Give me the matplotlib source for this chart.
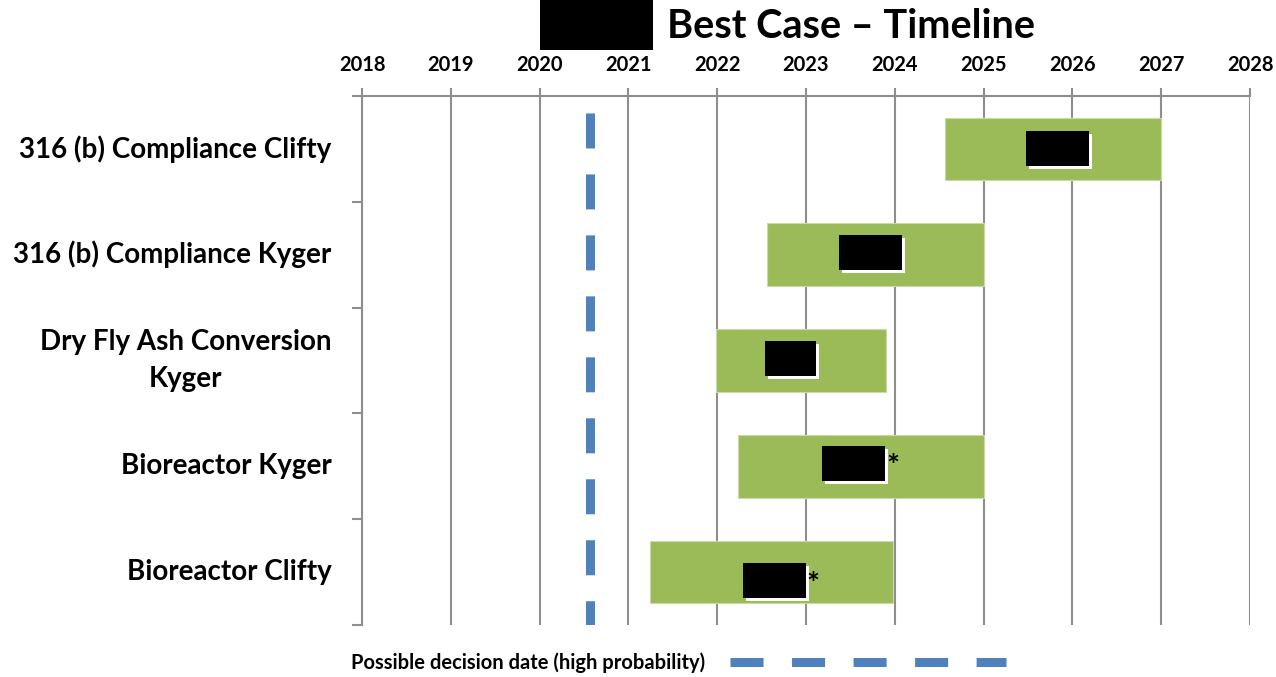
import matplotlib
matplotlib.use("Agg")
import matplotlib.pyplot as plt
from matplotlib.patches import Rectangle
from matplotlib.lines import Line2D

# ---------------- data ----------------
projects = ["316 (b) Compliance Clifty", "316 (b) Compliance Kyger",
            "Dry Fly Ash Conversion\nKyger", "Bioreactor Kyger", "Bioreactor Clifty"]
start_year = [2024.57, 2022.56, 2021.99, 2022.23, 2021.24]
end_year = [2027.0, 2025.0, 2023.90, 2025.0, 2023.98]
label_star = [False, False, False, True, True]
decision_date = 2020.57
years = list(range(2018, 2029))
title = "Best Case \u2013 Timeline"
legend_label = "Possible decision date (high probability)"

# ---------------- style ----------------
FONT = "Lato"
GREEN = "#9BBB59"
BLUE = "#4F81BD"
GRID = "#8E8E8E"
W, H = 1276, 677
DPI = 100
plt.rcParams["lines.scale_dashes"] = False

fig = plt.figure(figsize=(W / DPI, H / DPI), dpi=DPI)
ax = fig.add_axes([362 / W, 1 - 625 / H, (1250 - 362) / W, (625 - 96) / H])

ypos = list(range(len(projects)))
widths = [e - s for s, e in zip(start_year, end_year)]
ax.barh(ypos, widths, left=start_year, height=0.59, color=GREEN,
        edgecolor="#C9DBA6", linewidth=0.8, zorder=3)

# redacted data labels (black boxes) with a thin white offset shadow
box_w = [0.71, 0.71, 0.57, 0.71, 0.71]
box_dx = [0.05, -0.05, -0.12, -0.08, 0.03]
box_dy = [0.0, -0.02, -0.02, -0.03, 0.08]
px_x = 1 / 88.8
px_y = 1 / 105.8
for i, (s, e) in enumerate(zip(start_year, end_year)):
    cx = (s + e) / 2 + box_dx[i]
    cy = ypos[i] + box_dy[i]
    bw, bh = box_w[i], 0.33
    ax.add_patch(Rectangle((cx - bw / 2 + 3 * px_x, cy - bh / 2 + 3 * px_y), bw, bh,
                           facecolor="white", edgecolor="none", zorder=4))
    ax.add_patch(Rectangle((cx - bw / 2, cy - bh / 2), bw, bh,
                           facecolor="black", edgecolor="none", zorder=5))
    if label_star[i]:
        ax.text(cx + bw / 2 + 1 * px_x, cy + 4 * px_y, "*", fontsize=22, fontweight="bold",
                family=FONT, ha="left", va="center", zorder=6)

# decision date dashed line
ax.plot([decision_date, decision_date], [-0.5, 4.5], color=BLUE, lw=6.5,
        linestyle=(31.7, (25.2, 18.7)), dash_capstyle="butt", zorder=2)

ax.set_xlim(2018, 2028)
ax.set_ylim(4.5, -0.5)

# x axis on top
ax.xaxis.tick_top()
ax.set_xticks(years)
ax.set_xticklabels([str(y) for y in years], fontsize=14.5, fontweight="bold", family=FONT)
ax.tick_params(axis="x", which="major", length=6, width=1.5, color=GRID, pad=9)
ax.grid(axis="x", color=GRID, lw=1.5, zorder=1)

# y axis
ax.set_yticks(ypos)
ax.set_yticklabels(projects, fontsize=20, fontweight="bold", family=FONT)
for lab in ax.get_yticklabels():
    lab.set_multialignment("center")
    lab.set_linespacing(1.5)
    lab.set_verticalalignment("center")
ax.set_yticks([y - 0.5 for y in ypos] + [4.5], minor=True)
ax.tick_params(axis="y", which="major", length=0, pad=22)
ax.tick_params(axis="y", which="minor", length=7, width=1.5, color=GRID)

for side in ["right", "bottom"]:
    ax.spines[side].set_visible(False)
for side in ["top", "left"]:
    ax.spines[side].set_color(GRID)
    ax.spines[side].set_linewidth(1.5)

# title with redaction box
fig.text(667 / W, 1 - 26 / H, title, fontsize=28.5, fontweight="bold", family=FONT,
         ha="left", va="center")
fig.add_artist(Rectangle((540 / W, 1 - 50 / H), 113 / W, 50 / H, transform=fig.transFigure,
                         facecolor="black", edgecolor="none"))

# legend
handle = Line2D([], [], color=BLUE, lw=6.5, linestyle=(0, (23.8, 20.5)), dash_capstyle="butt")
leg = fig.legend([handle], [legend_label], loc="center", bbox_to_anchor=(678 / W, 1 - 663 / H),
                 frameon=False, markerfirst=False, handlelength=13.7, handletextpad=1.24,
                 prop={"family": FONT, "weight": "bold", "size": 14.5})

fig.savefig("out.png", dpi=DPI)
